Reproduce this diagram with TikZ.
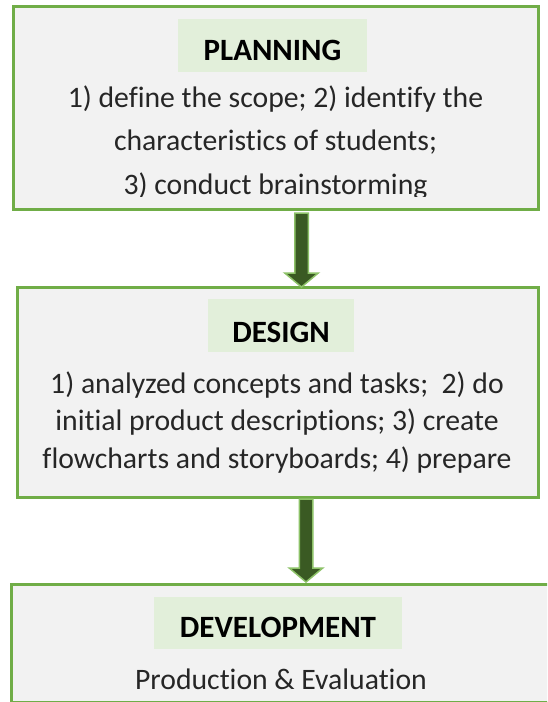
\documentclass[tikz,border=0pt]{standalone}
\usepackage{fontspec}
\setmainfont{Carlito}[Ligatures={NoCommon}, RawFeature={-liga;-dlig}]
\usetikzlibrary{calc}
\definecolor{bordergreen}{HTML}{70AD47}
\definecolor{boxgray}{HTML}{F2F2F2}
\definecolor{labelgreen}{HTML}{E2EFDA}
\definecolor{arrowdark}{HTML}{3A5A23}
\definecolor{arrowedge}{HTML}{8DC268}
\definecolor{bodytext}{HTML}{262626}
\newcommand{\bodyfont}{\fontsize{29.7}{36}\selectfont}
\newcommand{\titlefont}{\fontsize{31}{36}\selectfont\bfseries}
\newcommand{\blockarr}[2]{%
  \path[blockarrow] let \p1=(#1), \p2=(#2) in
    (\x1-6.75pt,\y1) -- (\x1+6.75pt,\y1) -- (\x1+6.75pt,\y2+14pt) --
    (\x1+16.75pt,\y2+14pt) -- (\x1,\y2) -- (\x1-16.75pt,\y2+14pt) --
    (\x1-6.75pt,\y2+14pt) -- cycle;}
\begin{document}
\begin{tikzpicture}[x=1pt,y=-1pt,
  stagebox/.style={draw=bordergreen, line width=3pt, fill=boxgray, inner sep=0pt, outer sep=0pt},
  labelbox/.style={fill=labelgreen, draw=none, inner sep=0pt, outer sep=0pt},
  titletext/.style={anchor=base, inner sep=0pt, text=black, font=\titlefont},
  bodyline/.style={anchor=base, inner sep=0pt, text=bodytext, font=\bodyfont},
  blockarrow/.style={fill=arrowdark, draw=arrowedge, line width=1.5pt, line join=miter}]
  \clip (0,0) rectangle (547,702);
  \fill[white] (0,0) rectangle (547,702);
  % PLANNING
  \node[stagebox, minimum width=525pt, minimum height=203pt] (plan) at (275.5,107.5) {};
  \node[labelbox, minimum width=189pt, minimum height=53pt] (planlab) at (272.5,45.5) {};
  \node[titletext] (plantitle) at (272.5,60) {PLANNING};
  \node[bodyline] (planl1) at (275.5,107) {1) define the scope; 2) identify the};
  \node[bodyline] (planl2) at (275.5,150.5) {characteristics of students;};
  \begin{scope}
    \clip (0,0) rectangle (547,196.5);
    \node[bodyline] (planl3) at (275.5,194) {3) conduct brainstorming};
  \end{scope}
  % DESIGN
  \node[stagebox, minimum width=521.5pt, minimum height=210pt] (design) at (277.75,392) {};
  \node[labelbox, minimum width=146pt, minimum height=53pt] (designlab) at (281,325.5) {};
  \node[titletext] (designtitle) at (281,342) {DESIGN};
  \node[bodyline] (desl1) at (277,393) {1) analyzed concepts and tasks;~ 2) do};
  \node[bodyline] (desl2) at (277,430.5) {initial product descriptions; 3) create};
  \node[bodyline] (desl3) at (277,468) {flowcharts and storyboards; 4) prepare};
  % DEVELOPMENT
  \node[stagebox, minimum width=554pt, minimum height=118pt] (dev) at (288,643) {};
  \node[labelbox, minimum width=248pt, minimum height=52pt] (devlab) at (278,623) {};
  \node[titletext] (devtitle) at (278,637) {DEVELOPMENT};
  \node[bodyline] (devl1) at (281,689) {Production \& Evaluation};
  % arrows
  \coordinate (a1s) at ($(plan.south)+(26pt,-4pt)$);
  \coordinate (a1t) at (a1s |- design.north);
  \coordinate (a2s) at ($(design.south)+(28.25pt,-2pt)$);
  \coordinate (a2t) at ($(a2s |- dev.north)+(0pt,2pt)$);
  \blockarr{a1s}{a1t}
  \blockarr{a2s}{a2t}
\end{tikzpicture}
\end{document}
